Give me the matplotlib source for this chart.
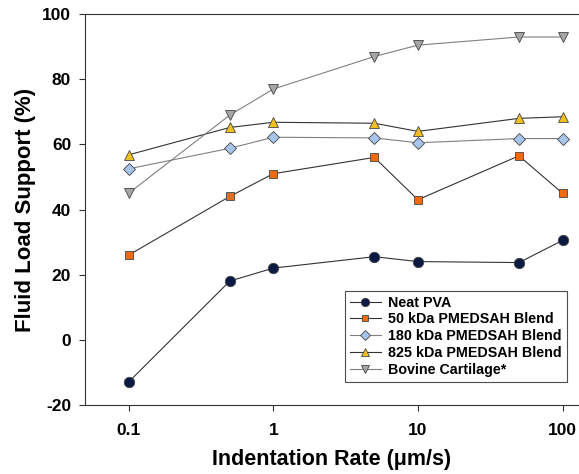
import matplotlib.pyplot as plt

plt.rcParams['font.family'] = ['Liberation Sans', 'DejaVu Sans']
plt.rcParams['font.weight'] = 'bold'
plt.rcParams['axes.unicode_minus'] = False

rates = [0.1, 0.5, 1, 5, 10, 50, 100]
neat_pva = [-13, 18, 22, 25.5, 24, 23.7, 30.5]
blend_50 = [26, 44, 51, 56, 43, 56.5, 45]
blend_180 = [52.5, 58.8, 62.2, 62, 60.5, 61.8, 61.8]
blend_825 = [56.8, 65.2, 66.8, 66.5, 64, 68, 68.5]
bovine = [45, 69, 77, 87, 90.5, 93, 93]

# label, values, marker, face colour, line colour, marker size
series = [
    ('Neat PVA', neat_pva, 'o', '#0b1a40', '#333333', 7.5),
    ('50 kDa PMEDSAH Blend', blend_50, 's', '#f26a10', '#333333', 6),
    ('180 kDa PMEDSAH Blend', blend_180, 'D', '#a9c4eb', '#808080', 6),
    ('825 kDa PMEDSAH Blend', blend_825, '^', '#f0c020', '#333333', 7.5),
    ('Bovine Cartilage*', bovine, 'v', '#a6a6a6', '#808080', 7.5),
]

fig = plt.figure(figsize=(5.79, 4.74), dpi=100)
ax = fig.add_axes([0.147, 0.146, 0.853, 0.824])

for label, vals, marker, fc, lc, ms in series:
    ax.plot(rates, vals, color=lc, lw=0.8, marker=marker, markersize=ms,
            markerfacecolor=fc, markeredgecolor='#444444', markeredgewidth=0.6,
            label=label)

ax.set_xscale('log')
ax.set_xlim(0.05, 130)
ax.set_ylim(-20, 100)
ax.set_xticks([0.1, 1, 10, 100])
ax.set_xticklabels(['0.1', '1', '10', '100'])
ax.minorticks_off()
ax.set_yticks(range(-20, 101, 20))
ax.tick_params(labelsize=12.5, direction='out', length=4, color='#333333')
ax.tick_params(axis='x', pad=9)
ax.tick_params(axis='y', pad=6)
ax.spines['right'].set_visible(False)
for s in ['left', 'bottom', 'top']:
    ax.spines[s].set_color('#333333')

ax.set_xlabel('Indentation Rate (\u03bcm/s)', fontsize=15.5, fontweight='bold')
ax.set_ylabel('Fluid Load Support (%)', fontsize=16, fontweight='bold')
ax.xaxis.set_label_coords(0.5, -0.112)
ax.yaxis.set_label_coords(-0.1, 0.5)

leg = ax.legend(loc='lower right', bbox_to_anchor=(0.99, 0.04), fontsize=10.3,
                frameon=True, fancybox=False, edgecolor='#222222',
                handlelength=2.2, handletextpad=0.5, borderpad=0.35,
                labelspacing=0.2, markerscale=0.8)
leg.get_frame().set_linewidth(0.8)

plt.savefig('out.png', dpi=100)
